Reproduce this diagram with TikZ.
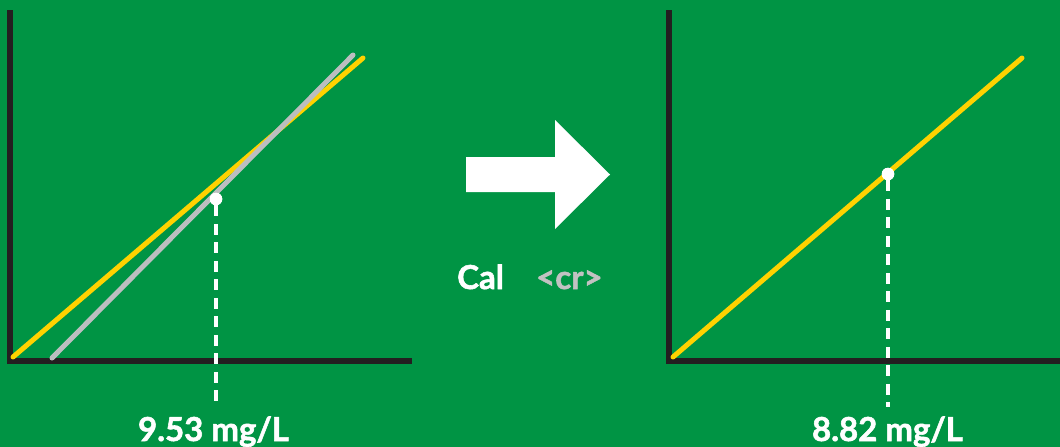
\documentclass[tikz,border=0pt]{standalone}
\usepackage{fontspec}
\setmainfont{Lato}[BoldFeatures={FakeBold=1.6}]
\definecolor{bg}{HTML}{009444}
\definecolor{axisc}{HTML}{231F20}
\definecolor{yel}{HTML}{FFD200}
\definecolor{gry}{HTML}{BCBEC0}
\definecolor{crg}{HTML}{C2C2C2}
\begin{document}
\begin{tikzpicture}[x=1pt,y=-1pt,
  axisline/.style={draw=axisc,line width=5.5pt,line join=miter},
  yline/.style={draw=yel,line width=5pt,line cap=round},
  gline/.style={draw=gry,line width=5pt,line cap=round},
  dotnode/.style={circle,fill=white,inner sep=0pt,minimum size=12.5pt},
  dashline/.style={draw=white,line width=3.8pt,dash pattern=on 11pt off 7.5pt},
  lbl/.style={text=white,font=\fontsize{33}{36}\selectfont\bfseries,inner sep=0pt},
  graylbl/.style={text=crg,font=\fontsize{33}{36}\selectfont\bfseries,inner sep=0pt}]
\fill[bg] (0,0) rectangle (1060,447);
\useasboundingbox (0,0) rectangle (1060,447);
% left chart
\coordinate (lTop) at (10,10);
\coordinate (lO) at (10,361);
\coordinate (lR) at (412,361);
\draw[axisline] (lTop) -- (lO) -- (lR);
\coordinate (y1a) at (13,357);
\coordinate (y1b) at (363,58);
\coordinate (g1a) at (52,358);
\coordinate (g1b) at (353,55);
\draw[yline] (y1a) -- (y1b);
\draw[gline] (g1a) -- (g1b);
\node[dotnode] (d1) at (216,199) {};
\coordinate (d1end) at (216,407);
\draw[dashline] (d1.south) -- (d1end);
\node[dotnode] at (216,199) {};
\node[lbl,anchor=base] (v1) at (213.5,441) {9.53 mg/L};
% arrow
\fill[white] (466,157) -- (555,157) -- (555,120) -- (610,174.5) -- (555,229) -- (555,192) -- (466,192) -- cycle;
\node[lbl,anchor=base west] (cal) at (457,289) {Cal};
\node[graylbl,anchor=base west] (cr) at (536,289) {<cr>};
% right chart
\coordinate (rTop) at (669,10);
\coordinate (rO) at (669,361);
\coordinate (rR) at (1062,361);
\draw[axisline] (rTop) -- (rO) -- (rR);
\coordinate (y2a) at (673,357);
\coordinate (y2b) at (1022,58);
\draw[yline] (y2a) -- (y2b);
\node[dotnode] (d2) at (888,174) {};
\coordinate (d2end) at (888,407);
\draw[dashline] (d2.south) -- (d2end);
\node[dotnode] at (888,174) {};
\node[lbl,anchor=base] (v2) at (887.5,441) {8.82 mg/L};
\end{tikzpicture}
\end{document}
